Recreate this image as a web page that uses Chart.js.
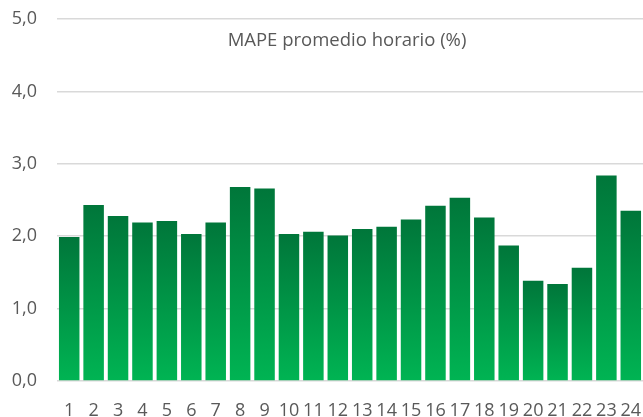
<!DOCTYPE html>
<html>
<head>
<meta charset="utf-8">
<script src="https://cdn.jsdelivr.net/npm/chart.js@4"></script>
<style>
html,body{margin:0;padding:0;background:#fff;}
#c{display:block;}
</style>
</head>
<body>
<canvas id="c" width="643" height="417"></canvas>
<script>
const hours = ['1','2','3','4','5','6','7','8','9','10','11','12','13','14','15','16','17','18','19','20','21','22','23','24'];
const mape = [1.99,2.43,2.28,2.19,2.21,2.03,2.19,2.68,2.66,2.03,2.06,2.01,2.10,2.13,2.23,2.42,2.53,2.26,1.87,1.385,1.34,1.565,2.84,2.35];
const yTicks = [0,1,2,3,4,5];
const chartTitle = 'MAPE promedio horario (%)';

const FONT = "'Open Sans', sans-serif";
const TXT = '#595959';

function barGradient(ctx) {
  const chart = ctx.chart;
  if (!chart.chartArea || ctx.type !== 'data') return '#00A04A';
  const ys = chart.scales.y;
  const top = ys.getPixelForValue(ctx.parsed ? ctx.parsed.y : mape[ctx.dataIndex]);
  const base = ys.getPixelForValue(0);
  if (!isFinite(top) || !isFinite(base) || top === base) return '#00A04A';
  const g = chart.ctx.createLinearGradient(0, top, 0, base);
  g.addColorStop(0, '#00763A');
  g.addColorStop(1, '#00B453');
  return g;
}

const innerTitle = {
  id: 'innerTitle',
  afterDatasetsDraw(chart) {
    const c = chart.ctx;
    const a = chart.chartArea;
    c.save();
    c.font = "18.5px 'Open Sans', sans-serif";
    c.fillStyle = TXT;
    c.textAlign = 'center';
    c.textBaseline = 'middle';
    c.fillText(chartTitle, (a.left + a.right) / 2 - 3, chart.scales.y.getPixelForValue(4.7));
    c.restore();
  }
};

new Chart(document.getElementById('c'), {
  type: 'bar',
  data: {
    labels: hours,
    datasets: [{
      data: mape,
      backgroundColor: barGradient,
      borderWidth: 0,
      categoryPercentage: 1,
      barPercentage: 0.84
    }]
  },
  plugins: [innerTitle],
  options: {
    responsive: false,
    devicePixelRatio: 1,
    animation: false,
    layout: { padding: { left: 0, right: 0, top: 19, bottom: 0 } },
    plugins: {
      legend: { display: false },
      tooltip: { enabled: false },
      title: { display: false }
    },
    scales: {
      x: {
        grid: { display: false, drawTicks: false },
        border: { display: false },
        afterFit: (axis) => { axis.height = 36; axis.paddingLeft = 0; axis.paddingRight = 0; },
        ticks: {
          color: TXT,
          font: { family: FONT, size: 18 },
          autoSkip: false,
          maxRotation: 0,
          minRotation: 0,
          padding: 19
        }
      },
      y: {
        min: 0,
        max: 5,
        afterBuildTicks: (axis) => { axis.ticks = yTicks.map(v => ({ value: v })); },
        afterFit: (axis) => { axis.width = 57; axis.paddingTop = 0; axis.paddingBottom = 0; },
        grid: { color: '#D9D9D9', lineWidth: 1.5, drawTicks: false },
        border: { display: false },
        ticks: {
          color: TXT,
          font: { family: FONT, size: 18 },
          padding: 20,
          callback: (v) => Number(v).toFixed(1).replace('.', ',')
        }
      }
    }
  }
});
</script>
</body>
</html>
